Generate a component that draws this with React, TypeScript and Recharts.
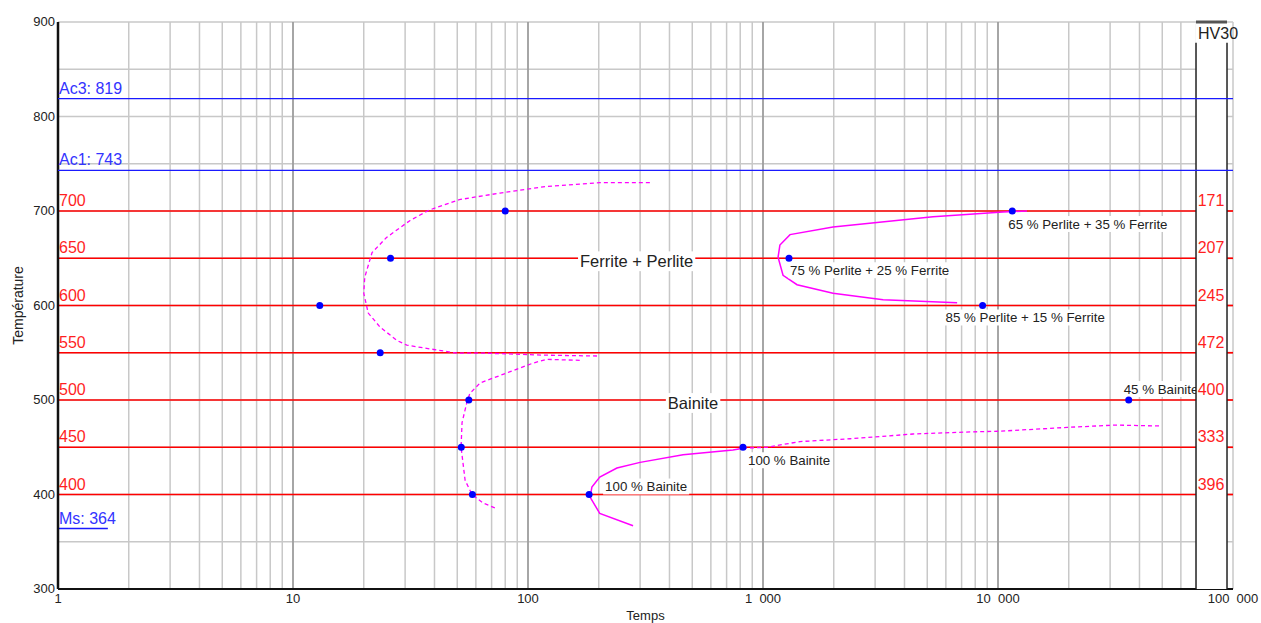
import {
  CartesianGrid,
  ComposedChart,
  Line,
  ReferenceArea,
  ReferenceDot,
  ReferenceLine,
  Scatter,
  XAxis,
  YAxis,
} from "recharts";

const FONT = "'Liberation Sans', Arial, sans-serif";

// time axis (log), temperature axis
const DECADES = [1, 10, 100, 1000, 10000, 100000];
const DECADE_LABELS = ["1", "10", "100", "1\u00a0\u00a0000", "10\u00a0\u00a0000", "100\u00a0\u00a0000"];
const TEMP_TICKS = [300, 400, 500, 600, 700, 800, 900];
const TEMP_HALF = [350, 450, 550, 650, 750, 850];

// isothermal holds and HV30 hardness reached
const ISO_TEMPS = [700, 650, 600, 550, 500, 450, 400];
const ISO_HV30 = [171, 207, 245, 472, 400, 333, 396];

const CRITICAL = [
  { name: "Ac3", T: 819 },
  { name: "Ac1", T: 743 },
];
const MS = 364;

// [time, temperature]
const ferriteStart: [number, number][] = [
  [330, 730], [202, 730], [120, 726], [76, 719], [51, 712], [38, 701], [31.5, 690],
  [25, 672], [21.7, 656], [20.2, 630], [20, 613], [20.9, 592], [23.5, 577], [27.7, 563],
  [30.5, 558], [50, 549.5], [67, 549.5], [116, 547.5], [202, 546.5],
];
const bainiteStart: [number, number][] = [
  [166, 542], [120, 543], [105, 539], [84, 530], [62.5, 518], [56.6, 507], [55, 498],
  [52.4, 476], [51.9, 450], [54, 415], [57.8, 400], [64.4, 391], [73.8, 385],
];
const perliteEnd: [number, number][] = [
  [13280, 700], [10500, 699], [5290, 694], [1986, 683], [1303, 675], [1180, 664],
  [1159, 651], [1217, 632], [1396, 622], [1986, 613], [3245, 606], [6700, 603],
];
const bainiteEnd: [number, number][] = [
  [280, 367], [202, 380], [184, 397], [187, 408], [202, 418.5], [239, 428], [300, 434],
  [457, 442], [745, 447], [822, 449],
];
const bainiteTail: [number, number][] = [
  [822, 449], [1040, 450], [1436, 456], [2345, 459], [4350, 464], [7100, 466],
  [10200, 467], [19700, 471], [31500, 473.5], [48900, 472.5],
];

const measured: [number, number][] = [
  [80, 700], [26, 650], [13, 600], [23.5, 550], [56, 500], [52, 450], [58, 400],
  [182, 400], [822, 450], [11500, 700], [1290, 650], [8600, 600], [36000, 500],
];

const notes = [
  { t: 11500, T: 700, text: "65 % Perlite + 35 % Ferrite" },
  { t: 1290, T: 650, text: "75 % Perlite + 25 % Ferrite" },
  { t: 8600, T: 600, text: "85 % Perlite + 15 % Ferrite" },
  { t: 182, T: 400, text: "100 % Bainite" },
  { t: 822, T: 450, text: "100 % Bainite" },
  { t: 36000, T: 500, text: "45 % Bainite" },
];
const regions = [
  { t: 290, T: 650, text: "Ferrite + Perlite" },
  { t: 504, T: 500, text: "Bainite" },
];

const pts = (a: [number, number][]) => a.map(([t, T]) => ({ t, T }));

const xTicks = DECADES.flatMap((d, i) =>
  i === DECADES.length - 1 ? [d] : [1, 2, 3, 4, 5, 6, 7, 8, 9].map((k) => k * d)
);
const yTicks = [...TEMP_TICKS, ...TEMP_HALF].sort((a, b) => a - b);

// hardness column sits at the right end of the time axis
const HV_LEFT = 69600;
const HV_RIGHT = 94300;
const HV_HEAD = 878;
const NOTE_OFFSETS = [[-4, 13], [1, 12], [-37, 12], [16, -8], [5, 13], [-5, -11]];

const ctx = typeof document !== "undefined" ? document.createElement("canvas").getContext("2d") : null;
function textWidth(s: string, size: number) {
  if (!ctx) return s.length * size * 0.55;
  ctx.font = `${size}px 'Liberation Sans', Arial`;
  return ctx.measureText(s).width;
}

function boxedText(text: string, dx: number, dy: number, size: number, anchor: "start" | "middle") {
  return (p: any) => {
    const w = textWidth(text, size);
    const x0 = anchor === "middle" ? p.cx + dx - w / 2 : p.cx + dx;
    const y = p.cy + dy;
    return (
      <g>
        <rect x={x0 - 2} y={y - size * 0.6} width={w + 4} height={size * 1.2} fill="#fff" />
        <text x={x0} y={y} dy={size * 0.35} fontSize={size} fill="#222" fontFamily={FONT}>
          {text}
        </text>
      </g>
    );
  };
}

function plainText(text: string, dx: number, dy: number, size: number, color: string, anchor = "start") {
  return (p: any) => (
    <text x={p.cx + dx} y={p.cy + dy} fontSize={size} fill={color} fontFamily={FONT} textAnchor={anchor}>
      {text}
    </text>
  );
}

function XTick({ x, y, payload }: any) {
  const i = DECADES.indexOf(payload.value);
  if (i < 0) return <g />;
  return (
    <text x={x} y={y} dy={12} textAnchor="middle" fontSize={13} fill="#222" fontFamily={FONT}>
      {DECADE_LABELS[i]}
    </text>
  );
}

function YTick({ x, y, payload }: any) {
  if (!TEMP_TICKS.includes(payload.value)) return <g />;
  return (
    <text x={x} y={y} dy={4} textAnchor="end" fontSize={13} fill="#222" fontFamily={FONT}>
      {payload.value}
    </text>
  );
}

function XTitle({ viewBox }: any) {
  return (
    <text x={viewBox.x + viewBox.width / 2} y={viewBox.y + 31} textAnchor="middle" fontSize={13} fill="#222" fontFamily={FONT}>
      Temps
    </text>
  );
}

function YTitle({ viewBox }: any) {
  const cx = 23;
  const cy = viewBox.y + viewBox.height / 2;
  return (
    <text x={cx} y={cy} transform={`rotate(-90 ${cx} ${cy})`} textAnchor="middle" fontSize={14} fill="#222" fontFamily={FONT}>
      Température
    </text>
  );
}

export default function App() {
  return (
    <div style={{ position: "absolute", left: 0, top: 0, background: "#fff", fontFamily: FONT }}>
      <ComposedChart width={1261} height={623} margin={{ top: 22, right: 28, bottom: 0, left: 0 }}>
        <CartesianGrid stroke="#c8c8c8" strokeWidth={1.5} />
        <XAxis
          dataKey="t"
          type="number"
          scale="log"
          domain={[1, 100000]}
          ticks={xTicks}
          interval={0}
          allowDataOverflow
          height={34}
          tickLine={false}
          tickSize={0}
          tickMargin={2}
          axisLine={{ stroke: "#111", strokeWidth: 2 }}
          tick={(p: any) => <XTick {...p} />}
          label={(p: any) => <XTitle {...p} />}
        />
        <YAxis
          dataKey="T"
          type="number"
          domain={[300, 900]}
          ticks={yTicks}
          interval={0}
          allowDataOverflow
          width={58}
          tickLine={false}
          tickSize={0}
          tickMargin={3}
          axisLine={{ stroke: "#111", strokeWidth: 2.5 }}
          tick={(p: any) => <YTick {...p} />}
          label={(p: any) => <YTitle {...p} />}
        />

        {DECADES.slice(1, -1).map((d) => (
          <ReferenceLine key={`dec${d}`} x={d} stroke="#969696" strokeWidth={1.5} />
        ))}

        {ISO_TEMPS.map((T) => (
          <ReferenceLine
            key={`iso${T}`}
            segment={[{ x: 1, y: T }, { x: HV_LEFT, y: T }]}
            stroke="#ff0000"
            strokeWidth={1.7}
          />
        ))}
        {ISO_TEMPS.map((T) => (
          <ReferenceLine
            key={`isoR${T}`}
            segment={[{ x: HV_RIGHT, y: T }, { x: 100000, y: T }]}
            stroke="#ff0000"
            strokeWidth={1.7}
          />
        ))}
        {ISO_TEMPS.map((T) => (
          <ReferenceDot key={`isoL${T}`} x={1} y={T} r={0} shape={plainText(String(T), 1, -5, 16, "#ff1f1f")} />
        ))}

        <ReferenceLine
          segment={[{ x: 1, y: MS }, { x: 1.63, y: MS }]}
          stroke="#1a1aff"
          strokeWidth={1.5}
        />
        <ReferenceDot x={1} y={MS} r={0} shape={plainText(`Ms: ${MS}`, 1, -5, 16, "#3333ff")} />

        <Line data={pts(ferriteStart)} dataKey="T" stroke="#ff00ff" strokeWidth={1.3} strokeDasharray="4 3" dot={false} isAnimationActive={false} type="linear" />
        <Line data={pts(bainiteStart)} dataKey="T" stroke="#ff00ff" strokeWidth={1.3} strokeDasharray="4 3" dot={false} isAnimationActive={false} type="linear" />
        <Line data={pts(bainiteTail)} dataKey="T" stroke="#ff00ff" strokeWidth={1.3} strokeDasharray="4 3" dot={false} isAnimationActive={false} type="linear" />
        <Line data={pts(perliteEnd)} dataKey="T" stroke="#ff00ff" strokeWidth={1.5} dot={false} isAnimationActive={false} type="linear" />
        <Line data={pts(bainiteEnd)} dataKey="T" stroke="#ff00ff" strokeWidth={1.5} dot={false} isAnimationActive={false} type="linear" />

        {regions.map((r) => (
          <ReferenceDot key={r.text} x={r.t} y={r.T} r={0} shape={boxedText(r.text, 0, 3, 16.5, "middle")} />
        ))}
        {notes.map((n, i) => (
          <ReferenceDot
            key={`note${i}`}
            x={n.t}
            y={n.T}
            r={0}
            shape={boxedText(n.text, NOTE_OFFSETS[i][0], NOTE_OFFSETS[i][1], 13.3, "start")}
          />
        ))}

        <Scatter data={pts(measured)} dataKey="T" fill="#0000ff" isAnimationActive={false} shape={(p: any) => <circle cx={p.cx} cy={p.cy} r={3.5} fill="#0000ff" />} />

        <ReferenceArea x1={HV_LEFT} x2={HV_RIGHT} y1={300} y2={900} fill="#fff" fillOpacity={1} stroke="none" zIndex={650} />
        <ReferenceLine segment={[{ x: HV_LEFT, y: 300 }, { x: HV_LEFT, y: HV_HEAD }]} stroke="#222" strokeWidth={1.5} zIndex={660} />
        <ReferenceLine segment={[{ x: HV_RIGHT, y: 300 }, { x: HV_RIGHT, y: HV_HEAD }]} stroke="#222" strokeWidth={1.5} zIndex={660} />
        <ReferenceLine segment={[{ x: HV_LEFT, y: 900 }, { x: HV_RIGHT, y: 900 }]} stroke="#555" strokeWidth={3} zIndex={660} />

        {CRITICAL.map((c) => (
          <ReferenceLine key={c.name} y={c.T} stroke="#1a1aff" strokeWidth={1.3} zIndex={700} />
        ))}
        {CRITICAL.map((c) => (
          <ReferenceDot key={`${c.name}l`} x={1} y={c.T} r={0} zIndex={700} shape={plainText(`${c.name}: ${c.T}`, 1, -5, 16, "#3333ff")} />
        ))}

        <ReferenceDot x={HV_LEFT} y={900} r={0} zIndex={800} shape={plainText("HV30", 2, 17, 16, "#222")} />
        {ISO_TEMPS.map((T, i) => (
          <ReferenceDot
            key={`hv${T}`}
            x={HV_LEFT}
            y={T}
            r={0}
            zIndex={800}
            shape={plainText(String(ISO_HV30[i]), 15, -5, 16, "#ff1f1f", "middle")}
          />
        ))}
      </ComposedChart>
    </div>
  );
}
